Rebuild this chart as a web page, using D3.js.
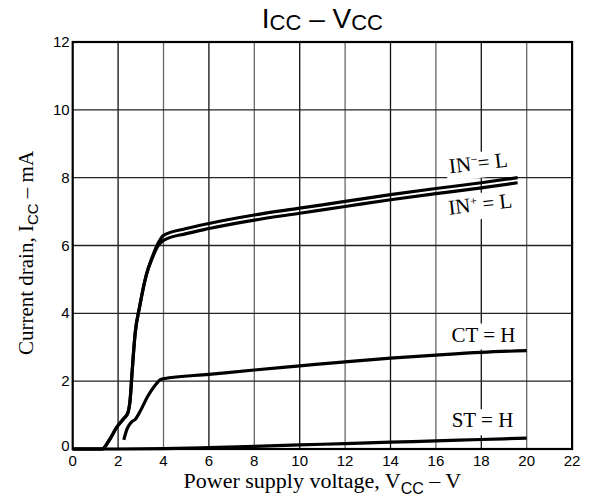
<!DOCTYPE html>
<html>
<head>
<meta charset="utf-8">
<script src="https://cdnjs.cloudflare.com/ajax/libs/d3/7.8.5/d3.min.js"></script>
<style>
    body { margin: 0; background: #fff; }
    .tick-txt { font-family: "Liberation Sans", Arial, sans-serif; font-size: 15px; fill: #000; }
    .serif { font-family: "Liberation Serif", "Times New Roman", serif; fill: #000; }
    .sans { font-family: "Liberation Sans", Arial, sans-serif; }
</style>
</head>
<body>
<div id="chart"></div>
<script>
// Curve data (V, mA)
var xTicks = [0, 2, 4, 6, 8, 10, 12, 14, 16, 18, 20, 22];
var yTicks = [0, 2, 4, 6, 8, 10, 12];

var inVolts = [0, 1.3, 1.6, 1.95, 2.25, 2.42, 2.53, 2.62, 2.75, 2.95, 3.25, 3.5, 3.75, 4.0, 5, 6, 8, 10, 12, 14, 16, 18, 19.6];
var inMinus = [0, 0, 0.25, 0.65, 0.9, 1.05, 1.45, 2.3, 3.4, 4.2, 5.15, 5.65, 6.05, 6.3, 6.5, 6.65, 6.9, 7.1, 7.3, 7.5, 7.68, 7.85, 8.0];
var inPlus  = [0, 0, 0.25, 0.65, 0.9, 1.05, 1.45, 2.3, 3.4, 4.2, 5.15, 5.62, 5.98, 6.15, 6.35, 6.5, 6.75, 6.95, 7.15, 7.35, 7.53, 7.7, 7.85];

var ctVolts = [2.25, 2.4, 2.6, 2.75, 3.0, 3.3, 3.6, 3.85, 4.0, 6, 8, 10, 12, 14, 16, 18, 20];
var ctHigh  = [0.27, 0.6, 0.8, 0.87, 1.15, 1.55, 1.85, 2.04, 2.07, 2.2, 2.33, 2.45, 2.57, 2.68, 2.77, 2.85, 2.9];

var stVolts = [0, 2, 4, 6, 8, 10, 12, 14, 16, 18, 20];
var stHigh  = [0, 0, 0.01, 0.04, 0.08, 0.12, 0.16, 0.2, 0.24, 0.28, 0.32];

(function (d3) {
    'use strict';

    var width = 592, height = 504;
    var margin = {top: 42, right: 19.9, bottom: 55, left: 72.7};
    var w = width - margin.left - margin.right;
    var h = height - margin.top - margin.bottom;

    var x = d3.scaleLinear().domain([0, 22]).range([0, w]);
    var y = d3.scaleLinear().domain([0, 12]).range([h, 0]);

    var svg = d3.select('#chart').append('svg')
        .attr('width', width)
        .attr('height', height);

    // Title with lowered, smaller "CC"
    var title = svg.append('text')
        .attr('class', 'sans')
        .attr('x', margin.left + w / 2)
        .attr('y', 28)
        .attr('text-anchor', 'middle')
        .style('font-size', '28px');
    title.append('tspan').text('I');
    title.append('tspan').attr('dy', 2).style('font-size', '22px').text('CC');
    title.append('tspan').attr('dy', -2).text(' – V');
    title.append('tspan').attr('dy', 2).style('font-size', '22px').text('CC');

    var g = svg.append('g')
        .attr('transform', translate(margin.left, margin.top));

    // Grid: every fourth volt is drawn lighter, as in the original
    g.append('g').selectAll('line').data(xTicks.slice(1, -1)).join('line')
        .attr('x1', x).attr('x2', x)
        .attr('y1', 0).attr('y2', h)
        .attr('stroke', function (d) { return d % 4 === 0 ? '#666' : '#111'; })
        .attr('stroke-width', 1.3);
    g.append('g').selectAll('line').data(yTicks.slice(1, -1)).join('line')
        .attr('y1', y).attr('y2', y)
        .attr('x1', 0).attr('x2', w)
        .attr('stroke', '#222').attr('stroke-width', 1.3);

    // Tick labels
    g.append('g').selectAll('text').data(xTicks).join('text')
        .attr('class', 'tick-txt')
        .attr('x', x).attr('y', h + 17)
        .attr('text-anchor', 'middle')
        .text(function (d) { return d; });
    g.append('g').selectAll('text').data(yTicks).join('text')
        .attr('class', 'tick-txt')
        .attr('x', -3).attr('y', function (d) { return y(d) + (d === 0 ? 2 : 5); })
        .attr('text-anchor', 'end')
        .text(function (d) { return d; });

    // Curve labels (white boxes hide the grid behind them)
    var labels = g.append('g');
    addLabel(labels, 479, 170, -6.5, [['IN', 0], ['−', -7, 12], ['= L', 7]]);
    addLabel(labels, 481, 211, -6.5, [['IN', 0], ['+', -7, 12], [' = L', 7]]);
    addLabel(labels, 483.5, 341.5, 0, [['CT = H', 0]]);
    addLabel(labels, 482.5, 427.3, 0, [['ST = H', 0]]);

    var line = d3.line().curve(d3.curveMonotoneX)
        .x(function (d) { return x(d[0]); })
        .y(function (d) { return y(d[1]); });

    var curves = [
        d3.zip(stVolts, stHigh),
        d3.zip(ctVolts, ctHigh),
        d3.zip(inVolts, inPlus),
        d3.zip(inVolts, inMinus)
    ];

    g.append('g').selectAll('path').data(curves).join('path')
        .attr('d', line)
        .attr('fill', 'none')
        .attr('stroke', '#000')
        .attr('stroke-width', 3.2)
        .attr('stroke-linejoin', 'round');

    // Frame
    g.append('rect')
        .attr('width', w).attr('height', h)
        .attr('fill', 'none')
        .attr('stroke', '#000')
        .attr('stroke-width', 2.2);

    // Axis titles
    var xt = svg.append('text')
        .attr('class', 'serif')
        .attr('x', margin.left + w / 2)
        .attr('y', 488)
        .attr('text-anchor', 'middle')
        .style('font-size', '22px');
    xt.append('tspan').text('Power supply voltage, V');
    xt.append('tspan').attr('class', 'sans').attr('dy', 6).style('font-size', '16px').text('CC');
    xt.append('tspan').attr('dy', -6).text(' – V');

    var yt = svg.append('text')
        .attr('class', 'serif')
        .attr('transform', translate(33, 253) + ' rotate(-90)')
        .attr('text-anchor', 'middle')
        .style('font-size', '21px');
    yt.append('tspan').text('Current drain, I');
    yt.append('tspan').attr('class', 'sans').attr('dy', 5).style('font-size', '15px').text('CC');
    yt.append('tspan').attr('dy', -5).text(' – mA');

    // cx, by: centre and baseline of the label in page pixels
    function addLabel(parent, cx, by, angle, parts) {
        var lg = parent.append('g')
            .attr('transform', translate(cx - margin.left, by - margin.top) + ' rotate(' + angle + ')');
        var bg = lg.append('rect').attr('fill', '#fff');
        var t = lg.append('text')
            .attr('class', 'serif')
            .attr('text-anchor', 'middle')
            .style('font-size', '21px');
        parts.forEach(function (p) {
            var s = t.append('tspan').attr('dy', p[1]).text(p[0]);
            if (p[2]) { s.style('font-size', p[2] + 'px'); }
        });
        var b = t.node().getBBox();
        bg.attr('x', b.x - 3).attr('y', b.y + 1).attr('width', b.width + 6).attr('height', b.height + 2);
    }

    function translate(a, b) {
        return 'translate(' + a + ',' + b + ')';
    }
})(d3);
</script>
</body>
</html>
